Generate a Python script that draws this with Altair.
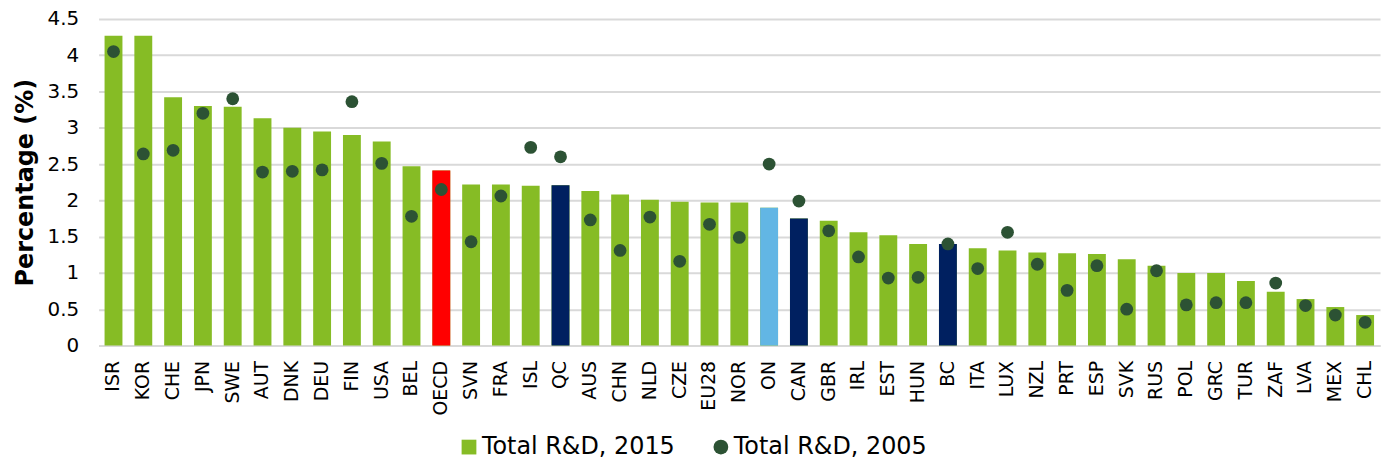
import altair as alt
import pandas as pd

countries = ["ISR", "KOR", "CHE", "JPN", "SWE", "AUT", "DNK", "DEU", "FIN", "USA", "BEL", "OECD",
             "SVN", "FRA", "ISL", "QC", "AUS", "CHN", "NLD", "CZE", "EU28", "NOR", "ON", "CAN",
             "GBR", "IRL", "EST", "HUN", "BC", "ITA", "LUX", "NZL", "PRT", "ESP", "SVK", "RUS",
             "POL", "GRC", "TUR", "ZAF", "LVA", "MEX", "CHL"]
rd2015 = [4.27, 4.27, 3.42, 3.30, 3.29, 3.13, 3.00, 2.95, 2.90, 2.81, 2.47, 2.41,
          2.22, 2.22, 2.20, 2.21, 2.13, 2.08, 2.01, 1.98, 1.97, 1.97, 1.90, 1.75,
          1.72, 1.56, 1.52, 1.40, 1.40, 1.34, 1.31, 1.28, 1.27, 1.26, 1.19, 1.10,
          1.00, 1.00, 0.89, 0.74, 0.64, 0.53, 0.42]
rd2005 = [4.05, 2.64, 2.69, 3.20, 3.40, 2.39, 2.40, 2.42, 3.36, 2.51, 1.78, 2.15,
          1.43, 2.06, 2.73, 2.60, 1.73, 1.31, 1.77, 1.16, 1.67, 1.49, 2.50, 1.99,
          1.58, 1.22, 0.93, 0.94, 1.40, 1.06, 1.56, 1.12, 0.76, 1.10, 0.50, 1.03,
          0.56, 0.59, 0.59, 0.86, 0.55, 0.42, 0.32]
y_ticks = [0, 0.5, 1, 1.5, 2, 2.5, 3, 3.5, 4, 4.5]
highlight = {"OECD": "#FF0000", "QC": "#002060", "CAN": "#002060", "BC": "#002060", "ON": "#62B6E4"}
series_names = ["Total R&D, 2015", "Total R&D, 2005"]

df = pd.DataFrame({
    "country": countries,
    "v2015": rd2015,
    "v2005": rd2005,
    "hl": [highlight.get(c, "") for c in countries],
})

FONT = "DejaVu Sans"
color_scale = alt.Scale(domain=series_names, range=["#86BC25", "#2C5234"])
shape_scale = alt.Scale(domain=series_names, range=["square", "circle"])
legend = alt.Legend(title=None, orient="none", legendX=360, legendY=418, direction="horizontal",
                    labelFontSize=24, labelFont=FONT, labelColor="#000000", symbolSize=220,
                    columnPadding=34, labelOffset=1, symbolStrokeWidth=0, symbolOpacity=1,
                    labelLimit=400)

x_axis = alt.Axis(title=None, labelAngle=-90, labelFontSize=19, labelFont=FONT,
                  labelColor="#000000", ticks=False, domainColor="#D9D9D9",
                  domainWidth=2, labelPadding=15)
x_scale = alt.Scale(paddingInner=0.4, paddingOuter=0.2)
y_axis = alt.Axis(title="Percentage (%)", titleFontSize=24, titleFont=FONT, titleFontWeight="bold",
                  titleColor="#000000", labelFontSize=20, labelFont=FONT, labelColor="#000000",
                  values=y_ticks, format="~g", ticks=False, labelOverlap=False,
                  domain=False, gridColor="#D9D9D9", gridWidth=2, labelPadding=20, titlePadding=10)
y_scale = alt.Scale(domain=[0, 4.5], nice=False)


def xenc():
    return alt.X("country:N", sort=countries, scale=x_scale, axis=x_axis)


base = alt.Chart(df)

bars = base.mark_bar().transform_calculate(series="'Total R&D, 2015'").encode(
    x=xenc(),
    y=alt.Y("v2015:Q", scale=y_scale, axis=y_axis),
    color=alt.Color("series:N", scale=color_scale, legend=legend),
)

hl_bars = base.mark_bar().transform_filter("datum.hl != ''").encode(
    x=xenc(),
    y=alt.Y("v2015:Q", scale=y_scale, axis=y_axis),
    fill=alt.Fill("hl:N", scale=None, legend=None),
)

dots = base.mark_point(filled=True, opacity=1, size=165).transform_calculate(
    series="'Total R&D, 2005'").encode(
    x=xenc(),
    y=alt.Y("v2005:Q", scale=y_scale, axis=y_axis),
    color=alt.Color("series:N", scale=color_scale, legend=legend),
    shape=alt.Shape("series:N", scale=shape_scale, legend=legend),
)

chart = alt.layer(bars, hl_bars, dots).properties(
    width=1287, height=328,
    autosize=alt.AutoSizeParams(type="none"),
    padding={"left": 91, "top": 10, "right": 5, "bottom": 114},
).configure_view(stroke=None)

chart.save("out.html", embed_options={"renderer": "svg", "actions": False})
